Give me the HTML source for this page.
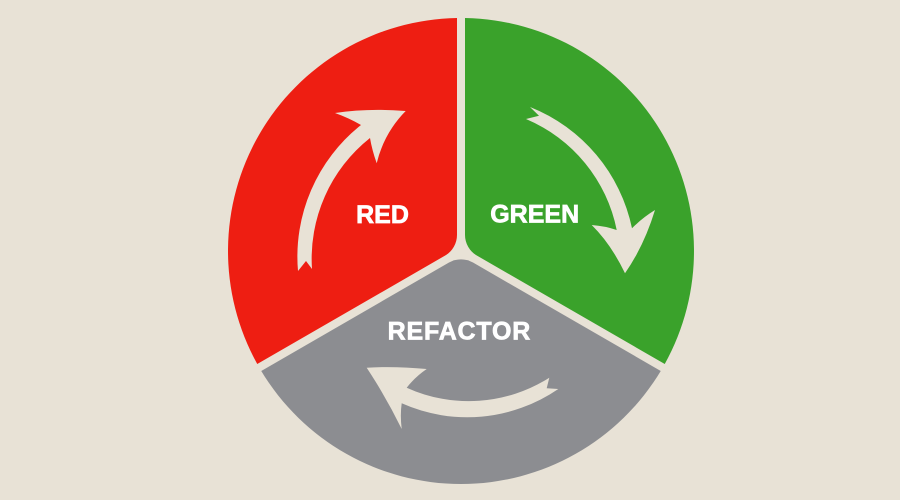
<!DOCTYPE html>
<html>
<head>
<meta charset="utf-8">
<style>
  html, body { margin: 0; padding: 0; background: #E8E2D6; }
  body { width: 900px; height: 500px; overflow: hidden; }
  svg { display: block; }
  text { font-family: "Liberation Sans", sans-serif; font-weight: bold; fill: #ffffff; stroke: #ffffff; stroke-width: 0.7; }
</style>
</head>
<body>
<svg width="900" height="500" viewBox="0 0 900 500" xmlns="http://www.w3.org/2000/svg">
  <rect x="0" y="0" width="900" height="500" fill="#E8E2D6"/>

  <!-- Red sector -->
  <path d="M 457,18.03 L 457,234.83 A 24 24 0 0 1 445.0,255.62 L 257.25,364.0 A 233 233 0 0 1 457,18.03 Z" fill="#EE1E12"/>
  <!-- Green sector -->
  <path d="M 465,18.03 A 233 233 0 0 1 664.75,364.0 L 477.0,255.62 A 24 24 0 0 1 465,234.83 Z" fill="#3AA22B"/>
  <!-- Gray sector -->
  <path d="M 261.25,370.95 L 449.0,262.55 A 24 24 0 0 1 473.0,262.55 L 660.75,370.95 A 233 233 0 0 1 261.25,370.95 Z" fill="#8C8D91"/>

  <!-- Red arrow -->
  <path d="M 306,261 L 312,269 A 154 154 0 0 1 370,138 Q 372,150 376.7,163.3 Q 384,133 405.7,111 Q 368,108 335,113 Q 349,118 361,125 A 168 168 0 0 0 298,271 Z" fill="#E8E2D6"/>

  <!-- Green arrow -->
  <path d="M 539,115.7 L 530,107 A 167 167 0 0 1 632,228.3 Q 642,218 655,210 Q 644,246 625,273.3 Q 611,244 591.7,225 Q 605,226 616.7,230 A 153 153 0 0 0 526,119 Z" fill="#E8E2D6"/>

  <!-- Gray arrow -->
  <path d="M 546.7,388.3 L 549.3,377.7 A 150 150 0 0 1 406.7,387.7 Q 415,377 426.7,369 Q 395,366 366.7,367.7 Q 386,397 401.7,429 Q 400,415 401.7,403.3 A 161 161 0 0 0 558.3,389 Z" fill="#E8E2D6"/>

  <!-- Labels -->
  <text x="382.5" y="223" font-size="25" text-anchor="middle">RED</text>
  <text x="534.7" y="222.5" font-size="25" text-anchor="middle">GREEN</text>
  <text x="459.4" y="339.3" font-size="25" text-anchor="middle" letter-spacing="0.8">REFACTOR</text>
</svg>
</body>
</html>
